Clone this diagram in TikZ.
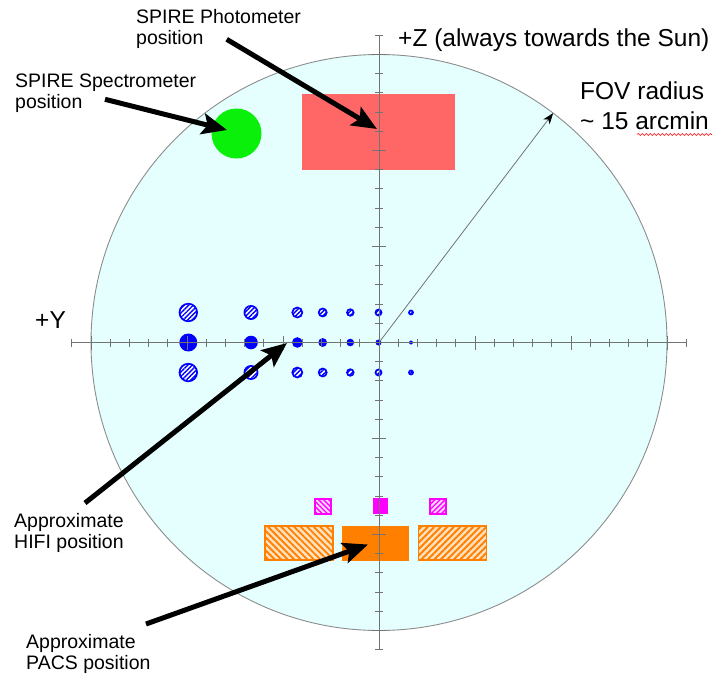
\documentclass[tikz,border=0pt]{standalone}
\usepackage{fontspec}
\setmainfont{Liberation Sans}
\usetikzlibrary{arrows.meta,patterns.meta,decorations.pathmorphing}
\definecolor{fovfill}{RGB}{229,255,255}
\definecolor{axisgray}{RGB}{115,115,115}
\definecolor{rimgray}{RGB}{140,140,140}
\definecolor{photored}{RGB}{255,102,102}
\definecolor{specgreen}{RGB}{10,240,10}
\definecolor{pacsorange}{RGB}{255,128,0}
\definecolor{pacspale}{RGB}{255,225,190}
\definecolor{hifiblue}{RGB}{0,0,255}
\definecolor{pmag}{RGB}{255,0,255}
\definecolor{pmagpale}{RGB}{255,215,255}
\begin{document}
\begin{tikzpicture}[x=1pt,y=-1pt,
  lbl/.style={inner sep=0pt, anchor=base west, align=left, font=\fontsize{19.5}{21.3}\selectfont},
  biglbl/.style={inner sep=0pt, anchor=base west, align=left, font=\fontsize{24.5}{30}\selectfont},
  bigarrow/.style={line width=5pt, black, -{Stealth[length=25pt,width=21pt,inset=5pt]}},
  fovarrow/.style={line width=0.8pt, axisgray, -{Stealth[length=11pt,width=8pt,inset=3pt,black]}},
  axisline/.style={line width=0.9pt, axisgray},
  hifihatch/.style={draw=hifiblue, line width=1.7pt, preaction={fill=white},
    pattern={Lines[angle=45,distance=3.2pt,line width=1.4pt]}, pattern color=hifiblue},
  pacsbox/.style={draw=pacsorange, line width=1.2pt, preaction={fill=pacspale}, pattern color=pacsorange},
  magbox/.style={draw=pmag, line width=1.2pt, preaction={fill=pmagpale}, pattern color=pmag}
]
\useasboundingbox (0,0) rectangle (725,675);
\coordinate (ctr) at (379,342.5);

% field of view
\draw[rimgray, line width=0.9pt, fill=fovfill] (ctr) circle[radius=288];

% SPIRE photometer and spectrometer
\fill[photored] (302,94) rectangle (455,170);
\fill[specgreen] (236.5,133.5) circle[radius=25];

% HIFI beams
\foreach \cx/\rh/\rf in {188.3/8.8/9, 251/6.6/6.8, 297.3/5.0/5.3, 322.7/4.0/4.4, 350.3/3.3/3.8, 378.5/3.0/3.0, 411/2.0/2.0}{
  \path[hifihatch] (\cx,312.5) circle[radius=\rh];
  \path[hifihatch] (\cx,372.5) circle[radius=\rh];
  \fill[hifiblue] (\cx,342.5) circle[radius=\rf];
}

% PACS
\path[pacsbox, pattern={Lines[angle=-45,distance=4.6pt,line width=1.9pt]}] (265,526) rectangle (333,560);
\fill[pacsorange] (342,525.5) rectangle (409,560.5);
\path[pacsbox, pattern={Lines[angle=45,distance=4.6pt,line width=1.9pt]}] (418.5,526) rectangle (486.5,560);
\path[magbox, pattern={Lines[angle=-45,distance=3.6pt,line width=1.4pt]}] (315,499) rectangle (331,514);
\fill[pmag] (372.7,498.3) rectangle (388.3,514.3);
\path[magbox, pattern={Lines[angle=45,distance=3.6pt,line width=1.4pt]}] (430,499) rectangle (446,514);

% axes with ticks
\draw[axisline] (379-16*19.2,342.5) -- (379+16*19.2,342.5);
\draw[axisline] (379,342.5-16*19.2) -- (379,342.5+16*19.2);
\foreach \i in {-16,...,16}{
  \pgfmathsetmacro\tl{ifthenelse(mod(abs(\i),5)==0,7,4)}
  \draw[axisline] (379+\i*19.2,342.5-\tl) -- (379+\i*19.2,342.5+\tl);
  \draw[axisline] (379-\tl,342.5+\i*19.2) -- (379+\tl,342.5+\i*19.2);
}

% FOV radius arrow
\coordinate (fovT) at ([shift={(-52.8:288)}]ctr);
\draw[fovarrow] (ctr) -- (fovT);

% labels (anchor = baseline of the last line)
\node[lbl] (photoLbl) at (136,44.3) {SPIRE Photometer\\position};
\node[lbl] (specLbl) at (15,108.5) {SPIRE Spectrometer\\position};
\node[biglbl] (zLbl) at (398,46.7) {+Z (always towards the Sun)};
\node[biglbl] (fovLbl) at (580,129.3) {FOV radius\\\textasciitilde{} 15 arcmin};
\node[biglbl] (yLbl) at (35,328.3) {+Y};
\node[lbl] (hifiLbl) at (14,548.3) {Approximate\\HIFI position};
\node[lbl] (pacsLbl) at (26,669.3) {Approximate\\PACS position};

% spell-check wave under "arcmin"
\coordinate (waveA) at (637,134.5);
\coordinate (waveB) at (712,134.5);
\draw[red, line width=0.6pt, decorate, decoration={snake, amplitude=1pt, segment length=4pt}] (waveA) -- (waveB);

% pointer arrows
\coordinate (photoS) at (226.7,39.3);
\coordinate (photoT) at (377,129);
\coordinate (specS) at (105,99.3);
\coordinate (specT) at (227,130);
\coordinate (hifiS) at (85,503);
\coordinate (hifiT) at (287,343);
\coordinate (pacsS) at (146,624);
\coordinate (pacsT) at (368,544.5);
\draw[bigarrow] (photoS) -- (photoT);
\draw[bigarrow] (specS) -- (specT);
\draw[bigarrow] (hifiS) -- (hifiT);
\draw[bigarrow] (pacsS) -- (pacsT);
\end{tikzpicture}
\end{document}
